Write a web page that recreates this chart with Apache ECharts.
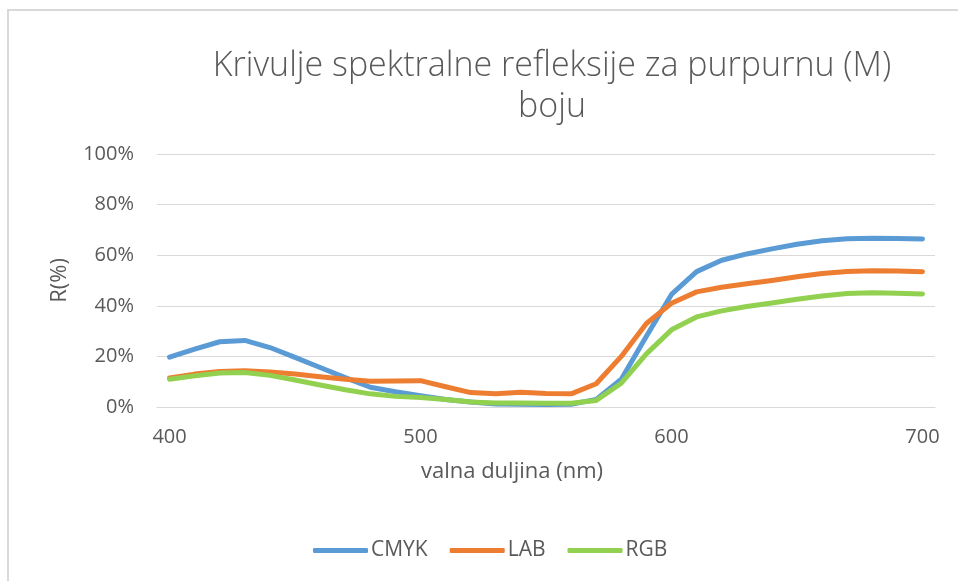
<!DOCTYPE html>
<html>
<head>
<meta charset="utf-8">
<title>Krivulje spektralne refleksije</title>
<script src="https://cdn.jsdelivr.net/npm/echarts@6/dist/echarts.min.js"></script>
<style>
    html, body { margin: 0; padding: 0; background: #fff; }
    #chart { width: 958px; height: 581px; }
</style>
</head>
<body>
<div id="chart"></div>
<script>
// Data, R in %
var wavelengths = ['400','410','420','430','440','450','460','470','480','490',
                   '500','510','520','530','540','550','560','570','580','590',
                   '600','610','620','630','640','650','660','670','680','690','700'];

var cmyk = [19.7, 22.9, 25.8, 26.3, 23.5, 19.6, 15.6, 11.6, 7.8, 6.0,
            4.5, 3.0, 2.0, 1.2, 1.1, 1.0, 1.1, 3.0, 11.0, 28.0,
            44.5, 53.5, 58.0, 60.5, 62.5, 64.3, 65.7, 66.5, 66.7, 66.6, 66.4];

var lab = [11.5, 13.0, 14.0, 14.3, 13.8, 13.0, 12.0, 11.0, 10.2, 10.3,
           10.4, 8.0, 5.7, 5.2, 5.8, 5.3, 5.2, 9.2, 20.0, 33.0,
           41.0, 45.5, 47.3, 48.7, 50.0, 51.5, 52.8, 53.6, 53.9, 53.8, 53.5];

var rgb = [11.0, 12.3, 13.4, 13.6, 12.5, 10.7, 8.7, 6.8, 5.2, 4.2,
           3.8, 3.0, 2.0, 1.6, 1.6, 1.5, 1.5, 2.6, 9.4, 21.0,
           30.5, 35.6, 38.0, 39.7, 41.1, 42.6, 43.9, 44.9, 45.2, 45.0, 44.7];

var seriesNames = ['CMYK', 'LAB', 'RGB'];
var seriesColors = ['#5B9BD5', '#ED7D31', '#92D050'];

var fontFam = '"Open Sans", sans-serif';
var textGrey = '#595959';

var makeLine = function(name, data, color) {
    return {
        name: name,
        type: 'line',
        data: data,
        symbol: 'none',
        smooth: false,
        itemStyle: { color: color },
        lineStyle: { width: 5, color: color, cap: 'round', join: 'round' }
    };
};

var chartOptions = {
    animation: false,
    backgroundColor: '#fff',
    textStyle: { fontFamily: fontFam },

    // Chart border (top and left edge visible)
    graphic: [{
        type: 'rect',
        shape: { x: 8, y: 10, width: 1200, height: 1200 },
        style: { fill: 'none', stroke: '#d9d9d9', lineWidth: 2 },
        silent: true
    }],

    title: {
        text: 'Krivulje spektralne refleksije za purpurnu (M)\nboju',
        left: 547,
        top: 41,
        textAlign: 'center',
        textStyle: {
            fontFamily: fontFam,
            fontWeight: 300,
            fontSize: 34,
            lineHeight: 41,
            color: textGrey
        }
    },

    legend: {
        data: seriesNames,
        left: 308,
        top: 535,
        icon: 'roundRect',
        itemWidth: 55,
        itemHeight: 5,
        itemGap: 22,
        textStyle: { fontSize: 21, color: textGrey, fontFamily: fontFam, padding: [0, 0, 0, -2] }
    },

    grid: {
        left: 157,
        right: 23,
        top: 154,
        bottom: 174,
        containLabel: false
    },

    xAxis: {
        type: 'category',
        data: wavelengths,
        boundaryGap: true,
        name: 'valna duljina (nm)',
        nameLocation: 'middle',
        nameGap: 54,
        nameTextStyle: { fontSize: 22, color: textGrey, fontFamily: fontFam, padding: [0, 68, 0, 0] },
        axisLine: { lineStyle: { color: '#d9d9d9', width: 1 } },
        axisTick: { show: false },
        axisLabel: {
            interval: 9,
            margin: 20,
            fontSize: 20,
            color: textGrey,
            fontFamily: fontFam
        },
        splitLine: { show: false }
    },

    yAxis: {
        type: 'value',
        min: 0,
        max: 100,
        interval: 20,
        name: 'R(%)',
        nameLocation: 'middle',
        nameGap: 86,
        nameTextStyle: { fontSize: 22, color: textGrey, fontFamily: fontFam },
        axisLine: { show: false },
        axisTick: { show: false },
        axisLabel: {
            formatter: '{value}%',
            margin: 23,
            fontSize: 20,
            color: textGrey,
            fontFamily: fontFam
        },
        splitLine: { lineStyle: { color: '#d9d9d9', width: 1 } }
    },

    series: [
        makeLine(seriesNames[0], cmyk, seriesColors[0]),
        makeLine(seriesNames[1], lab, seriesColors[1]),
        makeLine(seriesNames[2], rgb, seriesColors[2])
    ]
};

var chartEl = document.getElementById('chart');
var spectralChart = echarts.init(chartEl, null, { renderer: 'canvas' });
spectralChart.setOption(chartOptions);
</script>
</body>
</html>
